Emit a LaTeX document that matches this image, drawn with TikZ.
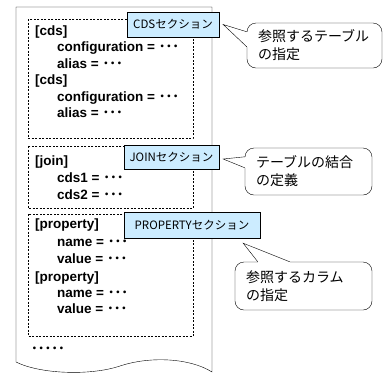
\documentclass[tikz,border=0pt]{standalone}
\usepackage{fontspec}
\setmainfont{Liberation Sans}
\newfontfamily\jpfont{Noto Sans CJK JP}
\usetikzlibrary{positioning}
\definecolor{secblue}{HTML}{CCECFF}
\newcommand{\tdots}{{\jpfont ･･･}}

\begin{document}
\begin{tikzpicture}[x=1bp,y=-1bp,
  code/.style={anchor=base west,inner sep=0pt,font=\bfseries\fontsize{13.5bp}{16bp}\selectfont},
  sec/.style={draw,fill=secblue,inner sep=0pt,font=\jpfont\fontsize{11.5bp}{13bp}\selectfont},
  note/.style={draw,fill=white,rounded corners=9bp,align=left,inner xsep=11bp,inner ysep=0pt,
    font=\jpfont\fontsize{14bp}{18bp}\selectfont},
  box/.style={dash pattern=on 2bp off 1.5bp},
  gap/.style={white,line width=1.5bp}]
  \useasboundingbox (0,0) rectangle (385,376);
  %paper
  \draw (16,7) -- (212,7) -- (212,372) .. controls (190,358) and (150,356) .. (120,366)
        .. controls (90,376) and (40,374) .. (16,362) -- cycle;

  %sections
  \draw[box] (28,19) rectangle (193,138);
  \draw[box] (28,146) rectangle (193,208);
  \draw[box] (28,214) rectangle (193,336);

  \node[code] (cdsA) at (35,35) {[cds]};
  \node[code] (confA) at (57,51.5) {configuration = \tdots};
  \node[code] (aliasA) at (57,68) {alias = \tdots};
  \node[code] (cdsB) at (35,84.5) {[cds]};
  \node[code] (confB) at (57,101) {configuration = \tdots};
  \node[code] (aliasB) at (57,117.5) {alias = \tdots};

  \node[code] (join) at (35,165) {[join]};
  \node[code] (cdsOne) at (57,182) {cds1 = \tdots};
  \node[code] (cdsTwo) at (57,199) {cds2 = \tdots};

  \node[code] (propA) at (35,228.5) {[property]};
  \node[code] (nameA) at (57,246) {name = \tdots};
  \node[code] (valA) at (57,263) {value = \tdots};
  \node[code] (propB) at (35,281) {[property]};
  \node[code] (nameB) at (57,297.5) {name = \tdots};
  \node[code] (valB) at (57,313.5) {value = \tdots};

  \node[code] (more) at (31,353) {{\jpfont ･････}};

  %section labels
  \node[sec,minimum width=92bp,minimum height=25bp] (cdsSec) at (173,24.5) {CDSセクション};
  \node[sec,minimum width=95bp,minimum height=24bp] (joinSec) at (171.5,157) {JOINセクション};
  \node[sec,minimum width=136bp,minimum height=26bp] (propSec) at (192,225) {PROPERTYセクション};

  %notes
  \node[note,text width=113bp,minimum height=45bp] (refTbl) at (314.5,45.5) {参照するテーブル\\の指定};
  \draw[gap] ([yshift=-9bp]refTbl.north west) -- ([yshift=-24bp]refTbl.north west);
  \draw ([yshift=-9bp]refTbl.north west) -- ([xshift=4bp]cdsSec.east) -- ([yshift=-24bp]refTbl.north west);

  \node[note,text width=105bp,minimum height=47bp] (joinDef) at (308.5,171.5) {テーブルの結合\\の定義};
  \draw[gap] ([yshift=-9bp]joinDef.north west) -- ([yshift=-20bp]joinDef.north west);
  \draw ([yshift=-9bp]joinDef.north west) -- ([xshift=4bp,yshift=-2bp]joinSec.east) -- ([yshift=-20bp]joinDef.north west);

  \node[note,text width=115bp,minimum height=48bp] (refCol) at (303.5,286) {参照するカラム\\の指定};
  \draw[gap] ([xshift=23bp]refCol.north west) -- ([xshift=55bp]refCol.north west);
  \draw ([xshift=23bp]refCol.north west) -- ([xshift=-17bp,yshift=-5bp]propSec.south east) -- ([xshift=55bp]refCol.north west);
\end{tikzpicture}
\end{document}
